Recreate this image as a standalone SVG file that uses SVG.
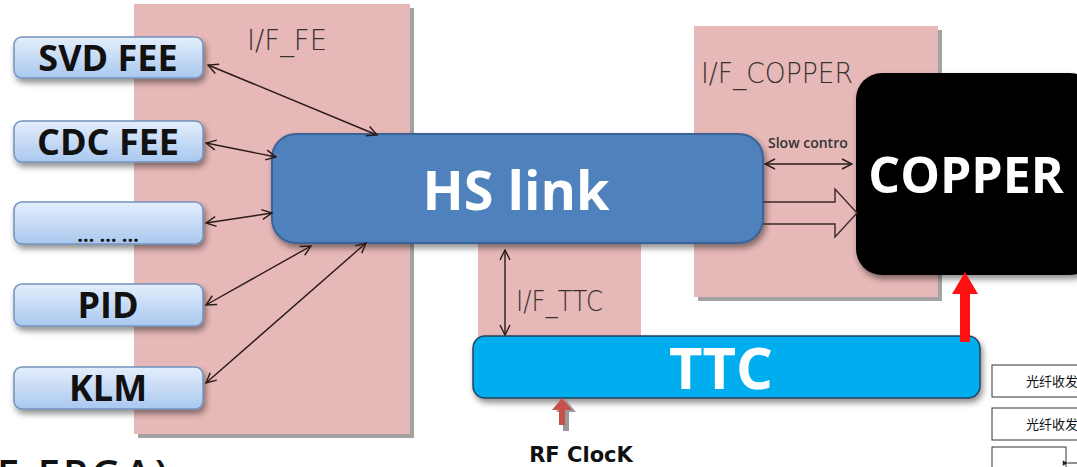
<svg xmlns="http://www.w3.org/2000/svg" width="1077" height="467" viewBox="0 0 1077 467">
  <defs>
    <linearGradient id="feeGrad" x1="0" y1="0" x2="0" y2="1">
      <stop offset="0" stop-color="#e4eefc"/>
      <stop offset="1" stop-color="#a9c8ef"/>
    </linearGradient>
    <filter id="softShadow" x="-10%" y="-10%" width="130%" height="140%">
      <feGaussianBlur in="SourceAlpha" stdDeviation="3"/>
      <feOffset dx="2" dy="4" result="b"/>
      <feComponentTransfer><feFuncA type="linear" slope="0.45"/></feComponentTransfer>
      <feMerge><feMergeNode/><feMergeNode in="SourceGraphic"/></feMerge>
    </filter>
    <marker id="head" viewBox="0 0 12 12" refX="11" refY="6" markerWidth="12" markerHeight="12" markerUnits="userSpaceOnUse" orient="auto-start-reverse">
      <path d="M1,1 L11,6 L1,11" fill="none" stroke="#2a1a1a" stroke-width="1.4"/>
    </marker>
    <marker id="smallHead" viewBox="0 0 8 8" refX="1" refY="4" markerWidth="7" markerHeight="7" markerUnits="userSpaceOnUse" orient="auto">
      <path d="M7,1 L1,4 L7,7 Z" fill="#222"/>
    </marker>
  </defs>
  <style>
    .panel { fill: #e6b8b7; }
    .panelShadow { fill: #a3a3a3; }
    .panelLabel { font-family: "DejaVu Sans", "Liberation Sans", sans-serif; font-weight: 200; font-size: 28px; fill: #3a3030; }
    .fee { fill: url(#feeGrad); stroke: #7393bd; stroke-width: 1.5; }
    .feeText { font-family: "Open Sans", "Liberation Sans", sans-serif; font-weight: 700; font-size: 36px; fill: #111; text-anchor: middle; }
    .link { stroke: #2a1a1a; stroke-width: 1.4; fill: none; marker-start: url(#head); marker-end: url(#head); }
    .bigWhite { font-family: "Open Sans", "Liberation Sans", sans-serif; font-weight: 700; fill: #ffffff; text-anchor: middle; }
    .cn { font-family: "Liberation Serif", "Noto Sans CJK SC", serif; font-size: 13px; fill: #111; }
    .cnBox { fill: #ffffff; stroke: #333; stroke-width: 1; }
  </style>

  <!-- interface panels -->
  <g id="if_fe">
    <rect class="panelShadow" x="138" y="8" width="276" height="430"/>
    <rect class="panel" x="134" y="4" width="276" height="430"/>
    <text class="panelLabel" x="247" y="50" textLength="80" lengthAdjust="spacingAndGlyphs">I/F_FE</text>
  </g>
  <g id="if_copper">
    <rect class="panelShadow" x="698" y="30" width="244" height="271"/>
    <rect class="panel" x="694" y="26" width="244" height="271"/>
    <text class="panelLabel" x="701" y="83" textLength="152" lengthAdjust="spacingAndGlyphs">I/F_COPPER</text>
  </g>
  <g id="if_ttc">
    <rect class="panel" x="478" y="238" width="163" height="100"/>
    <text class="panelLabel" x="516" y="311" textLength="87" lengthAdjust="spacingAndGlyphs">I/F_TTC</text>
  </g>

  <!-- front-end nodes -->
  <g id="svd_fee">
    <rect class="fee" x="14" y="37" width="189" height="41" rx="8" filter="url(#softShadow)"/>
    <text class="feeText" x="108" y="71">SVD FEE</text>
  </g>
  <g id="cdc_fee">
    <rect class="fee" x="14" y="121" width="189" height="41" rx="8" filter="url(#softShadow)"/>
    <text class="feeText" x="108" y="155">CDC FEE</text>
  </g>
  <g id="other_fee">
    <rect class="fee" x="14" y="202" width="189" height="42" rx="8" filter="url(#softShadow)"/>
    <text x="108" y="242" font-family="Open Sans, Liberation Sans, sans-serif" font-weight="700" font-size="20" fill="#111" text-anchor="middle">… … …</text>
  </g>
  <g id="pid">
    <rect class="fee" x="14" y="284" width="189" height="42" rx="8" filter="url(#softShadow)"/>
    <text class="feeText" x="108" y="318">PID</text>
  </g>
  <g id="klm">
    <rect class="fee" x="14" y="367" width="189" height="42" rx="8" filter="url(#softShadow)"/>
    <text class="feeText" x="108" y="401">KLM</text>
  </g>

  <!-- HS link -->
  <g id="hs_link">
    <rect x="272" y="134" width="491" height="109" rx="24" fill="#4f81bd" stroke="#3b6496" stroke-width="2" filter="url(#softShadow)"/>
    <text class="bigWhite" x="516" y="210" font-size="54">HS link</text>
  </g>

  <!-- COPPER -->
  <g id="copper">
    <text x="768" y="148" font-family="Open Sans, Liberation Sans, sans-serif" font-weight="600" font-size="14" fill="#333">Slow contro</text>
    <rect x="856" y="73" width="240" height="202" rx="26" fill="#050505" filter="url(#softShadow)"/>
    <text class="bigWhite" x="966" y="193" font-size="50">COPPER</text>
  </g>

  <!-- TTC -->
  <g id="ttc">
    <rect x="473" y="336" width="507" height="62" rx="12" fill="#00aeef" stroke="#24425e" stroke-width="1.5" filter="url(#softShadow)"/>
    <text class="bigWhite" x="721" y="389" font-size="58">TTC</text>
  </g>

  <!-- RF clock -->
  <g id="rf_clock">
    <path d="M563,431 L563,412 L556,412 L566,400 L576,412 L569,412 L569,431 Z" fill="#999"/>
    <path d="M559,425 L559,410 L552,410 L562,398 L572,410 L565,410 L565,425 Z" fill="#c9504a"/>
    <text x="581" y="462" font-family="DejaVu Sans, sans-serif" font-weight="700" font-size="21" fill="#111" text-anchor="middle">RF ClocK</text>
  </g>

  <!-- fibre transceivers -->
  <g id="fibre_1">
    <rect class="cnBox" x="992" y="365" width="100" height="32"/>
    <text class="cn" x="1026" y="386">光纤收发</text>
  </g>
  <g id="fibre_2">
    <rect class="cnBox" x="992" y="408" width="100" height="32"/>
    <text class="cn" x="1026" y="429">光纤收发</text>
  </g>
  <g id="fibre_3">
    <rect class="cnBox" x="992" y="447" width="74" height="30"/>
  </g>

  <!-- partial caption running off the lower edge -->
  <text x="-3" y="489" font-family="Open Sans, Liberation Sans, sans-serif" font-weight="600" font-size="40" fill="#111" letter-spacing="4">E FPGA)</text>

  <!-- connectors -->
  <g id="connectors">
    <line class="link" x1="208" y1="65" x2="377" y2="135"/>
    <line class="link" x1="206" y1="143" x2="276" y2="157"/>
    <line class="link" x1="206" y1="223" x2="272" y2="213"/>
    <line class="link" x1="206" y1="305" x2="311" y2="246"/>
    <line class="link" x1="206" y1="383" x2="366" y2="243"/>
    <line class="link" x1="505" y1="250" x2="505" y2="335"/>
    <line class="link" x1="765" y1="164" x2="852" y2="164"/>
    <!-- data path HS link -> COPPER -->
    <path d="M763,202 L835,202 L835,189 L857,213 L835,237 L835,224 L763,224" fill="none" stroke="#3a2a2a" stroke-width="1.4"/>
    <!-- trigger to COPPER -->
    <path d="M960,342 L960,294 L952,294 L965,272 L978,294 L970,294 L970,342 Z" fill="#ff1010"/>
    <line x1="1077" y1="463" x2="1068" y2="463" stroke="#222" stroke-width="1" marker-end="url(#smallHead)"/>
  </g>
</svg>
